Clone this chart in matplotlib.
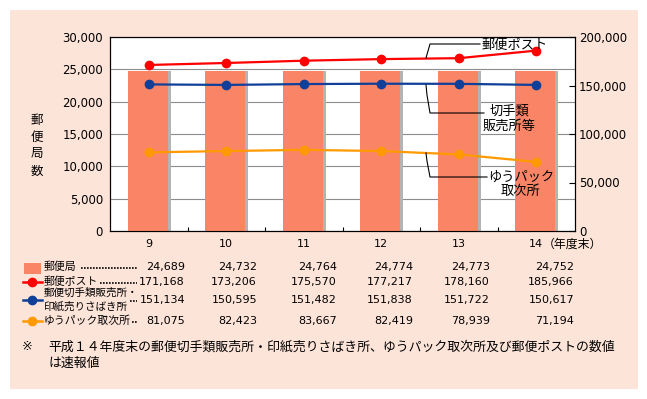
import matplotlib
matplotlib.use('Agg')
import matplotlib.pyplot as plt
from matplotlib.lines import Line2D
from matplotlib.patches import Rectangle
from matplotlib.ticker import FuncFormatter, MultipleLocator
import numpy as np

plt.rcParams['font.family'] = ['DejaVu Sans', 'Noto Sans CJK JP']

# ---------------- data ----------------
years = ['9', '10', '11', '12', '13', '14']
year_suffix = '（年度末）'
post_offices = [24689, 24732, 24764, 24774, 24773, 24752]
post_boxes = [171168, 173206, 175570, 177217, 178160, 185966]
stamp_sellers = [151134, 150595, 151482, 151838, 151722, 150617]
yupack_agents = [81075, 82423, 83667, 82419, 78939, 71194]

row_labels = ['郵便局', '郵便ポスト', '郵便切手類販売所・\n印紙売りさばき所', 'ゆうパック取次所']
ylabel_chars = ['郵', '便', '局', '数']
label_post = '郵便ポスト'
label_stamp = '切手類\n販売所等'
label_yupack = 'ゆうパック\n取次所'
footnote_mark = '※'
footnote_1 = '平成１４年度末の郵便切手類販売所・印紙売りさばき所、ゆうパック取次所及び郵便ポストの数値'
footnote_2 = 'は速報値'

# ---------------- style ----------------
PEACH = '#FDE4D9'
BAR = '#FA8466'
SHADOW = '#B4B4B4'
RED = '#FF0000'
BLUE = '#0F3F99'
ORANGE = '#FF9900'
GRID = '#8C8C8C'

W, H = 647, 399
fig = plt.figure(figsize=(W / 100, H / 100), dpi=100)
fig.patch.set_facecolor('white')


def P(x, y):
    return (x / W, 1 - y / H)


fig.add_artist(Rectangle(P(10, 389), 628 / W, 379 / H, transform=fig.transFigure,
                         facecolor=PEACH, edgecolor='none', zorder=-10))

ax = fig.add_axes([110 / W, 1 - 231 / H, 465 / W, 194 / H])
ax.set_facecolor('white')
x = np.arange(len(years))
bw = 0.516
ax.bar(x - 0.01 + 0.039, post_offices, width=bw, color=SHADOW, zorder=2)
ax.bar(x - 0.01, post_offices, width=bw, color=BAR, zorder=3)

ax.set_xlim(-0.5, len(years) - 0.5)
ax.set_ylim(0, 30000)
ax.yaxis.set_major_locator(MultipleLocator(5000))
fmt = FuncFormatter(lambda v, p: f'{v:,.0f}')
ax.yaxis.set_major_formatter(fmt)
ax.grid(axis='y', color=GRID, lw=0.8)
ax.set_axisbelow(True)
ax.set_xticks(x)
ax.set_xticklabels(years)
ax.set_xticks(x[:-1] + 0.5, minor=True)
ax.tick_params(axis='x', which='major', length=0, pad=6, labelsize=8)
ax.tick_params(axis='x', which='minor', direction='in', length=3, width=0.8)
ax.tick_params(axis='y', length=0, pad=5, labelsize=8.5)
for s in ax.spines.values():
    s.set_linewidth(0.8)

ax.annotate(year_suffix, xy=(x[-1], 0), xycoords=('data', 'axes fraction'),
            xytext=(5, -9.6), textcoords='offset points', ha='left', va='center', fontsize=8.6)

ax2 = ax.twinx()
ax2.set_ylim(0, 200000)
ax2.yaxis.set_major_locator(MultipleLocator(50000))
ax2.yaxis.set_major_formatter(fmt)
ax2.tick_params(axis='y', direction='in', length=4, width=0.8, pad=3, labelsize=8.5)
for s in ax2.spines.values():
    s.set_linewidth(0.8)

ax2.plot(x, post_boxes, color=RED, lw=1.6, marker='o', ms=6, zorder=5)
ax2.plot(x, stamp_sellers, color=BLUE, lw=1.6, marker='o', ms=6, zorder=5)
ax2.plot(x, yupack_agents, color=ORANGE, lw=1.6, marker='o', ms=6, zorder=5)

# y label (stacked vertical)
for ch, yy in zip(ylabel_chars, [121, 137, 154, 171]):
    fig.text(*P(37, yy), ch, ha='center', va='center', fontsize=9)


# leader lines and series labels
def poly(pts, **kw):
    xs = [p[0] / W for p in pts]
    ys = [1 - p[1] / H for p in pts]
    fig.add_artist(Line2D(xs, ys, transform=fig.transFigure, **kw))


poly([(480, 44), (430, 44), (426, 58)], color='black', lw=0.8)
poly([(426, 85), (427, 95), (430, 113), (484, 113)], color='black', lw=0.8)
poly([(426, 153), (427, 161), (430, 177), (487, 177)], color='black', lw=0.8)
fig.text(*P(482, 45), label_post, ha='left', va='center', fontsize=9.5)
fig.text(*P(509, 118.5), label_stamp, ha='center', va='center', ma='center', fontsize=9.5,
         linespacing=1.15)
fig.text(*P(521, 184.5), label_yupack, ha='center', va='center', ma='center', fontsize=9.5,
         linespacing=1.15)

# ---------------- table ----------------
row_y = [267, 282, 300, 321]
col_x = [185, 257, 337, 413, 490, 574]
dots = [(81, 137), (100, 137), (130, 137), (132, 138)]
series = [post_offices, post_boxes, stamp_sellers, yupack_agents]
colors = [BAR, RED, BLUE, ORANGE]

for i, (lab, yy, vals, col, (d0, d1)) in enumerate(zip(row_labels, row_y, series, colors, dots)):
    if i == 0:
        fig.add_artist(Rectangle(P(24, 274), 17 / W, 11 / H, transform=fig.transFigure,
                                 facecolor=col, edgecolor='none'))
    else:
        poly([(23, yy), (42, yy)], color=col, lw=1.8)
        poly([(32, yy)], color=col, marker='o', ms=6, lw=0)
    if '\n' in lab:
        l1, l2 = lab.split('\n')
        fig.text(*P(44, yy - 7), l1, ha='left', va='center', fontsize=7.6)
        fig.text(*P(44, yy + 7), l2, ha='left', va='center', fontsize=7.6)
    else:
        fig.text(*P(44, yy), lab, ha='left', va='center', fontsize=7.8)
    poly([(d0, yy + 1), (d1, yy + 1)], color='black', lw=1.2, dashes=(1, 0.8))
    for xx, v in zip(col_x, vals):
        fig.text(*P(xx, yy), f'{v:,}', ha='right', va='center', fontsize=8)

# footnote
fig.text(*P(22, 347), footnote_mark, ha='left', va='center', fontsize=9.3)
fig.text(*P(48, 347), footnote_1, ha='left', va='center', fontsize=9.3)
fig.text(*P(48, 363), footnote_2, ha='left', va='center', fontsize=9.3)

fig.savefig('out.png', dpi=100)
